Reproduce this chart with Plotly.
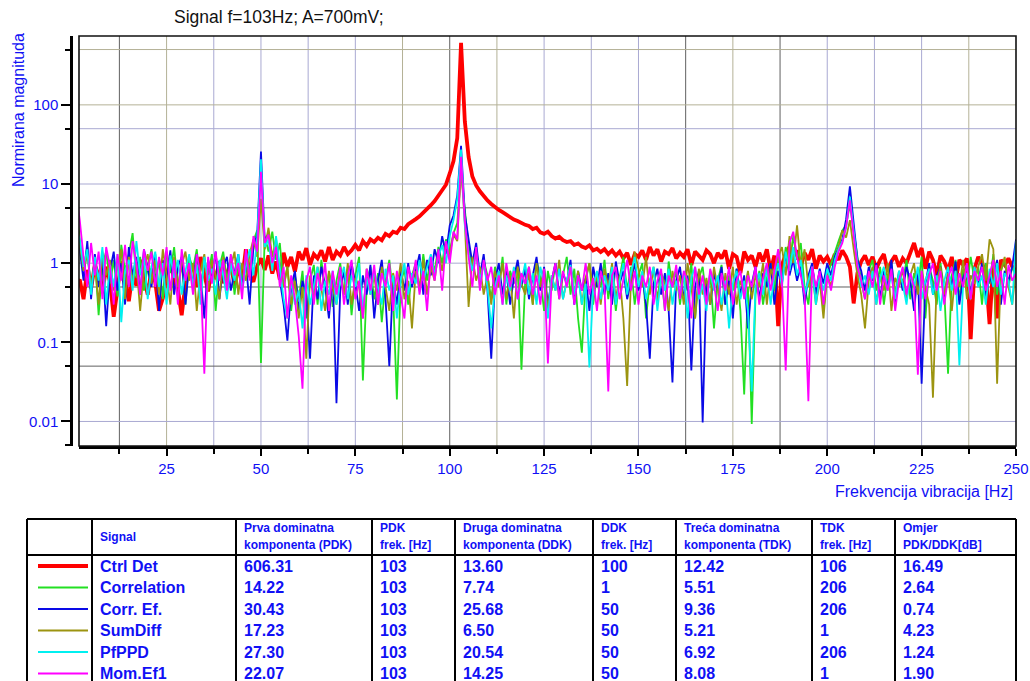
import plotly.graph_objects as go

# ── Spectrum data (1 Hz bins, 1..250 Hz) ────────────────────────────────────
freq_hz = list(range(1, 251))

ctrl_det = [
    0.55, 0.62, 0.35, 0.82, 0.48, 0.95, 0.70, 0.42, 0.90, 0.58,
    0.21, 0.45, 1.05, 0.62, 0.33, 0.74, 0.52, 1.10, 0.68, 0.40,
    0.85, 0.57, 0.25, 0.36, 0.70, 1.15, 0.60, 0.47, 0.22, 0.55,
    0.80, 0.95, 0.50, 1.20, 0.72, 0.44, 0.88, 0.63, 1.05, 0.56,
    0.75, 0.98, 0.52, 0.85, 0.62, 1.50, 0.70, 0.58, 0.92, 1.15,
    0.82, 1.25, 0.74, 1.05, 0.62, 1.35, 0.90, 1.20, 0.78, 1.40,
    1.10, 1.55, 0.95, 1.30, 1.15, 1.45, 1.05, 1.60, 1.10, 1.40,
    1.25, 1.60, 1.30, 1.45, 1.70, 1.45, 1.90, 1.65, 2.00, 1.85,
    2.10, 1.95, 2.35, 2.20, 2.50, 2.40, 2.80, 2.70, 3.10, 3.40,
    3.60, 3.90, 4.30, 4.80, 5.40, 6.10, 7.20, 8.40, 9.80, 13.60,
    19.5, 38.0, 606.31, 62.0, 22.0, 12.42, 9.60, 8.10, 7.00, 6.20,
    5.60, 5.10, 4.70, 4.40, 4.05, 3.80, 3.55, 3.40, 3.20, 3.05,
    2.95, 2.70, 2.80, 2.45, 2.35, 2.50, 2.20, 2.05, 2.15, 1.95,
    1.85, 1.90, 1.70, 1.78, 1.62, 1.55, 1.68, 1.45, 1.52, 1.38,
    1.50, 1.30, 1.45, 1.25, 1.40, 1.15, 1.35, 0.95, 1.30, 1.20,
    1.45, 1.10, 1.60, 1.25, 1.50, 1.05, 1.40, 1.30, 1.55, 1.15,
    1.35, 1.20, 1.50, 0.95, 1.40, 1.25, 1.10, 1.45, 1.30, 1.00,
    1.35, 1.15, 1.45, 0.85, 1.30, 1.20, 0.75, 1.40, 1.10, 1.25,
    0.90, 1.35, 1.05, 1.50, 0.80, 1.25, 0.16, 0.95, 1.30, 1.60,
    1.20, 1.45, 0.90, 1.35, 1.10, 1.50, 0.85, 1.25, 1.05, 1.20,
    0.95, 1.30, 1.10, 1.45, 1.20, 0.90, 0.31, 0.75, 1.05, 1.25,
    0.95, 1.20, 0.85, 1.10, 1.30, 0.80, 1.05, 1.25, 0.90, 1.15,
    1.00, 1.35, 1.80, 1.20, 1.55, 0.85, 1.40, 1.10, 0.70, 1.25,
    1.05, 0.80, 1.20, 0.60, 1.10, 0.95, 1.15, 0.11, 0.85, 1.20,
    1.00, 0.75, 0.17, 1.05, 0.20, 1.10, 0.95, 1.15, 0.90, 0.80,
]

correlation = [
    7.74, 1.9, 0.85, 1.6, 0.42, 1.2, 0.22, 0.95, 1.4, 0.55,
    1.1, 0.38, 1.7, 0.8, 1.3, 2.4, 0.65, 1.2, 0.45, 0.9,
    1.5, 0.6, 1.1, 0.35, 1.4, 0.75, 1.6, 0.5, 1.0, 0.3,
    1.2, 0.85, 1.5, 0.45, 1.1, 0.7, 1.3, 0.25, 0.9, 1.4,
    0.6, 1.2, 0.4, 1.0, 0.55, 1.3, 0.8, 1.9, 2.6, 0.055,
    2.2, 1.4, 2.5, 1.1, 1.8, 0.5, 0.9, 0.25, 0.7, 0.35,
    0.8, 0.2, 0.6, 0.95, 0.3, 1.1, 0.45, 0.75, 0.28, 0.6,
    1.0, 0.4, 0.85, 0.22, 0.7, 1.2, 0.033, 0.5, 0.9, 0.35,
    0.75, 0.18, 0.6, 1.1, 0.4, 0.019, 0.55, 0.85, 0.3, 0.7,
    1.0, 0.45, 1.3, 0.6, 1.2, 0.8, 1.6, 1.0, 2.0, 1.4,
    2.4, 3.2, 14.22, 5.0, 1.6, 0.9, 1.5, 0.5, 1.1, 0.7,
    0.35, 0.9, 0.5, 1.2, 0.3, 0.8, 0.55, 1.0, 0.045, 0.6,
    0.9, 0.3, 1.1, 0.65, 0.25, 0.8, 0.45, 1.0, 0.35, 0.7,
    1.2, 0.4, 0.85, 0.2, 0.074, 0.6, 1.0, 0.3, 0.75, 0.5,
    1.1, 0.35, 0.8, 0.25, 0.65, 1.2, 0.45, 0.9, 0.3, 0.7,
    1.0, 0.2, 0.6, 0.85, 0.35, 0.75, 0.25, 1.05, 0.5, 0.8,
    0.3, 0.7, 0.45, 1.0, 0.2, 0.65, 0.9, 0.35, 0.75, 0.15,
    0.6, 0.95, 0.3, 0.7, 0.45, 0.85, 0.25, 0.022, 0.5, 0.0093,
    0.4, 0.8, 0.3, 0.65, 1.0, 0.45, 1.2, 0.6, 1.6, 0.9,
    2.2, 1.1, 1.8, 0.5, 0.3, 0.9, 0.45, 0.8, 0.25, 0.7,
    1.0, 1.4, 1.9, 2.6, 3.0, 5.51, 2.4, 1.2, 0.6, 0.35,
    0.8, 1.1, 0.45, 0.9, 0.3, 0.7, 1.0, 0.4, 0.8, 0.55,
    1.1, 0.35, 0.75, 0.5, 1.2, 0.2, 0.9, 0.6, 0.3, 1.0,
    0.45, 0.04, 0.7, 1.1, 0.35, 0.85, 0.5, 1.2, 0.6, 0.9,
    0.3, 1.0, 0.55, 1.3, 0.4, 0.8, 1.1, 0.5, 0.9, 0.7,
]

corr_ef = [
    3.8, 1.5, 0.6, 1.9, 0.35, 1.3, 0.5, 1.1, 0.16, 0.8,
    1.4, 0.45, 1.0, 0.3, 1.6, 0.7, 1.2, 0.4, 1.5, 0.85,
    0.5, 1.3, 0.25, 1.1, 0.65, 1.45, 0.4, 0.9, 1.2, 0.3,
    1.0, 0.55, 1.3, 0.7, 0.2, 1.1, 0.6, 1.4, 0.35, 0.9,
    1.2, 0.45, 0.8, 1.3, 0.5, 1.0, 0.3, 1.6, 2.3, 25.68,
    1.9, 2.4, 0.9, 1.7, 0.6, 0.3, 0.105, 0.5, 0.8, 0.25,
    0.6, 0.4, 0.062, 0.7, 0.35, 0.9, 0.5, 0.2, 0.75, 0.017,
    0.45, 0.8, 0.3, 1.0, 0.55, 0.25, 0.7, 0.4, 0.95, 0.2,
    0.6, 1.1, 0.35, 0.05, 0.65, 0.3, 0.85, 0.45, 1.0, 0.5,
    0.8, 1.3, 0.4, 1.1, 0.7, 1.5, 1.0, 2.2, 1.3, 3.0,
    4.0, 7.2, 30.43, 4.2, 2.0, 1.0, 1.8, 0.7, 1.3, 0.45,
    0.062, 0.6, 1.0, 0.4, 0.8, 0.3, 0.65, 1.1, 0.5, 0.85,
    0.35, 0.7, 1.2, 0.45, 0.9, 0.3, 0.6, 1.0, 0.4, 0.75,
    0.55, 1.1, 0.3, 0.8, 0.45, 0.65, 0.25, 0.9, 0.5, 1.0,
    0.4, 0.75, 0.3, 1.05, 0.55, 0.8, 0.35, 0.6, 1.0, 0.45,
    0.7, 0.3, 0.062, 0.55, 0.85, 0.4, 0.75, 0.25, 0.031, 0.6,
    0.9, 0.35, 0.7, 0.044, 0.5, 0.8, 0.0097, 0.6, 0.3, 0.75,
    0.45, 0.9, 0.3, 0.6, 0.2, 0.85, 0.4, 0.7, 0.15, 0.55,
    0.9, 0.35, 0.75, 0.5, 1.0, 0.3, 0.8, 0.55, 1.3, 0.7,
    1.1, 0.6, 0.9, 0.3, 0.7, 1.0, 0.4, 0.85, 0.55, 1.0,
    0.7, 1.2, 1.6, 2.0, 3.6, 9.36, 3.0, 1.1, 0.8, 0.45,
    0.9, 0.6, 1.0, 0.35, 0.8, 0.5, 1.1, 0.3, 0.75, 0.45,
    0.9, 0.6, 0.25, 0.8, 0.030, 0.55, 1.0, 0.4, 0.7, 0.9,
    0.35, 0.8, 0.5, 1.05, 0.3, 0.65, 0.95, 0.4, 0.85, 0.55,
    1.0, 0.35, 0.7, 0.5, 1.1, 0.3, 0.8, 0.6, 0.9, 2.0,
]

sum_diff = [
    5.21, 1.7, 0.8, 1.3, 0.5, 1.0, 0.3, 1.4, 0.7, 1.1,
    0.45, 0.9, 1.5, 0.35, 1.2, 0.6, 1.0, 0.25, 0.85, 1.3,
    0.55, 1.1, 0.4, 1.5, 0.7, 0.3, 1.2, 0.5, 0.95, 1.4,
    0.6, 1.0, 0.25, 0.8, 1.3, 0.45, 1.1, 0.7, 0.35, 1.2,
    0.5, 0.9, 1.4, 0.4, 1.0, 0.6, 1.3, 2.0, 1.2, 6.50,
    1.5, 2.8, 1.2, 2.0, 0.8, 0.5, 0.9, 0.3, 0.6, 0.2,
    0.5, 0.062, 0.7, 0.35, 0.9, 0.45, 0.25, 0.8, 0.5, 0.3,
    0.75, 0.4, 1.0, 0.3, 0.65, 0.5, 0.2, 0.85, 0.4, 0.7,
    0.3, 0.9, 0.5, 0.25, 0.75, 0.45, 1.0, 0.35, 0.6, 0.15,
    0.8, 0.5, 1.1, 0.4, 0.9, 0.6, 1.4, 0.8, 1.8, 1.3,
    2.3, 1.9, 17.23, 3.2, 0.28, 1.2, 0.6, 0.9, 0.4, 0.7,
    0.3, 0.8, 0.5, 1.0, 0.35, 0.7, 0.2, 0.9, 0.55, 0.4,
    0.75, 0.3, 1.0, 0.5, 0.85, 0.25, 0.7, 0.45, 1.1, 0.35,
    0.6, 0.9, 0.4, 0.8, 0.3, 0.65, 1.0, 0.45, 0.7, 0.3,
    0.85, 0.5, 1.0, 0.35, 0.7, 0.2, 0.028, 0.6, 1.4, 0.8,
    0.5, 1.2, 0.4, 0.9, 0.3, 0.75, 0.55, 0.25, 0.8, 0.45,
    0.7, 0.3, 1.0, 0.5, 0.2, 0.85, 0.4, 0.65, 0.3, 0.9,
    0.5, 0.25, 0.75, 0.4, 0.9, 0.3, 0.6, 0.45, 0.8, 0.35,
    0.7, 0.5, 1.0, 0.3, 0.85, 0.6, 1.2, 1.6, 0.7, 2.2,
    1.0, 3.0, 0.9, 1.5, 0.5, 0.8, 0.3, 0.6, 0.2, 0.75,
    0.5, 1.0, 1.6, 2.6, 2.1, 3.5, 1.5, 0.7, 0.4, 0.15,
    0.6, 0.9, 0.3, 0.7, 0.45, 1.0, 0.25, 0.65, 0.5, 0.85,
    0.35, 0.7, 1.0, 0.4, 0.8, 0.5, 0.3, 0.020, 0.6, 0.9,
    0.4, 0.75, 0.25, 0.8, 0.5, 1.1, 0.35, 0.7, 0.55, 0.9,
    1.3, 0.6, 2.0, 1.5, 0.030, 0.8, 1.2, 0.5, 0.3, 0.85,
]

pfppd = [
    2.8, 2.0, 0.9, 1.5, 0.4, 1.2, 0.6, 1.6, 0.3, 0.95,
    0.5, 1.3, 0.18, 0.8, 1.1, 0.45, 1.9, 0.7, 1.2, 0.35,
    0.9, 1.4, 0.5, 1.0, 0.3, 1.25, 0.65, 1.1, 0.4, 0.8,
    1.3, 0.5, 0.95, 0.3, 1.2, 0.6, 0.85, 0.4, 1.1, 0.7,
    0.35, 1.0, 0.6, 1.3, 0.45, 0.9, 1.5, 0.7, 2.1, 20.54,
    1.6, 2.0, 0.8, 2.2, 0.9, 0.35, 0.2, 0.6, 0.3, 0.45,
    0.15, 0.7, 0.3, 0.55, 0.9, 0.25, 0.6, 0.4, 0.8, 0.3,
    0.6, 0.9, 0.35, 0.7, 0.5, 1.0, 0.25, 0.65, 0.4, 0.8,
    0.5, 0.3, 0.85, 0.45, 0.7, 0.2, 0.6, 1.0, 0.4, 0.75,
    0.55, 1.1, 0.6, 0.9, 1.3, 0.7, 1.2, 1.7, 1.0, 2.2,
    3.5, 6.5, 27.30, 3.0, 1.3, 0.8, 1.4, 0.6, 1.0, 0.5,
    0.15, 0.5, 0.8, 0.3, 0.7, 0.45, 0.9, 0.35, 0.6, 1.0,
    0.4, 0.75, 0.3, 0.9, 0.55, 0.2, 0.7, 0.45, 0.85, 0.35,
    0.6, 0.95, 0.4, 0.7, 0.3, 0.55, 0.048, 0.5, 0.8, 0.35,
    0.7, 0.45, 0.9, 0.3, 0.6, 1.0, 0.4, 0.75, 1.2, 0.5,
    0.8, 0.35, 0.6, 0.9, 0.25, 0.7, 0.45, 0.85, 0.3, 0.6,
    0.4, 0.75, 0.2, 0.65, 0.9, 0.35, 0.55, 0.25, 0.8, 0.45,
    0.7, 0.3, 0.6, 0.15, 0.55, 0.8, 0.35, 0.6, 0.25, 0.024,
    0.5, 0.75, 0.4, 0.9, 0.3, 0.7, 1.0, 0.5, 1.4, 0.8,
    1.6, 0.7, 1.1, 0.4, 0.6, 0.9, 0.3, 0.7, 0.45, 0.85,
    0.6, 1.1, 1.5, 1.9, 2.8, 6.92, 2.6, 1.0, 0.5, 0.7,
    0.4, 0.8, 0.3, 0.65, 0.9, 0.45, 0.7, 0.35, 0.8, 0.55,
    0.3, 0.75, 0.5, 0.9, 0.35, 0.6, 0.85, 0.4, 0.7, 0.25,
    0.6, 0.9, 0.45, 0.8, 0.051, 0.55, 0.75, 0.35, 0.9, 0.5,
    0.7, 0.3, 0.85, 0.5, 1.0, 0.4, 0.75, 0.6, 0.3, 1.9,
]

mom_ef1 = [
    8.08, 3.5, 1.2, 0.5, 1.8, 0.7, 1.4, 0.35, 1.6, 0.9,
    0.3, 1.3, 0.6, 1.7, 0.5, 1.9, 1.0, 0.4, 1.5, 0.8,
    1.4, 0.5, 1.2, 0.7, 1.6, 0.45, 1.1, 0.3, 1.5, 0.6,
    1.0, 0.4, 1.3, 0.7, 0.04, 1.2, 0.55, 1.4, 0.6, 1.1,
    0.45, 1.3, 0.7, 1.0, 0.35, 1.5, 0.6, 2.2, 1.4, 14.25,
    1.8, 2.3, 1.0, 1.6, 0.5, 0.9, 0.2, 0.7, 0.35, 0.12,
    0.026, 0.6, 0.9, 0.3, 0.75, 0.45, 1.0, 0.25, 0.8, 0.4,
    0.9, 0.3, 0.7, 1.1, 0.35, 0.6, 0.2, 0.85, 0.45, 0.95,
    0.3, 0.75, 0.5, 1.0, 0.25, 0.8, 0.4, 0.2, 0.9, 0.55,
    1.1, 0.4, 0.8, 0.25, 1.2, 0.6, 1.5, 0.45, 1.9, 1.0,
    2.5, 2.0, 22.07, 3.4, 1.2, 0.5, 1.6, 0.45, 1.1, 0.6,
    0.9, 0.4, 0.7, 0.3, 1.0, 0.5, 0.8, 0.35, 0.75, 0.55,
    0.9, 0.4, 0.7, 0.3, 0.85, 0.054, 0.6, 1.0, 0.35, 0.8,
    0.5, 0.9, 0.3, 0.7, 0.45, 1.0, 0.4, 0.65, 0.25, 0.8,
    0.5, 0.024, 0.7, 0.9, 0.35, 0.6, 1.1, 0.45, 0.8, 0.3,
    0.7, 0.5, 0.9, 0.3, 0.6, 0.85, 0.25, 0.7, 0.5, 0.95,
    0.35, 0.8, 0.6, 0.2, 0.9, 0.4, 0.7, 0.3, 0.85, 0.55,
    0.25, 0.75, 0.45, 0.9, 0.3, 0.6, 0.8, 0.35, 0.7, 0.5,
    0.9, 0.3, 0.65, 1.0, 0.45, 0.8, 1.5, 0.6, 0.044, 1.8,
    2.5, 1.2, 0.7, 0.4, 0.018, 0.9, 0.5, 0.8, 0.3, 0.7,
    0.45, 0.9, 1.4, 1.8, 2.9, 6.2, 2.2, 0.9, 0.6, 0.35,
    0.8, 0.5, 0.95, 0.3, 0.7, 0.45, 0.85, 0.25, 0.6, 0.9,
    0.4, 0.75, 0.5, 0.039, 0.8, 0.35, 0.7, 1.0, 0.45, 0.8,
    0.3, 0.65, 0.9, 0.4, 0.75, 0.5, 1.0, 0.35, 0.8, 0.6,
    0.9, 0.45, 0.7, 1.1, 0.5, 0.8, 0.3, 0.95, 0.6, 0.75,
]

# ── Table data ──────────────────────────────────────────────────────────────
signals = ["Ctrl Det", "Correlation", "Corr. Ef.", "SumDiff", "PfPPD", "Mom.Ef1"]
series = [ctrl_det, correlation, corr_ef, sum_diff, pfppd, mom_ef1]
colors = ["#FF0000", "#22E022", "#0A0AE6", "#9C9410", "#00F0F0", "#FF00FF"]
widths = [3.8, 1.8, 1.8, 1.8, 1.8, 1.8]

pdk = [606.31, 14.22, 30.43, 17.23, 27.30, 22.07]
pdk_freq = [103, 103, 103, 103, 103, 103]
ddk = [13.60, 7.74, 25.68, 6.50, 20.54, 14.25]
ddk_freq = [100, 1, 50, 50, 50, 50]
tdk = [12.42, 5.51, 9.36, 5.21, 6.92, 8.08]
tdk_freq = [106, 206, 206, 1, 206, 1]
ratio_db = [16.49, 2.64, 0.74, 4.23, 1.24, 1.90]

header_line1 = ["", "Signal", "Prva dominatna", "PDK", "Druga dominatna",
                "DDK", "Treća dominatna", "TDK", "Omjer"]
header_line2 = ["", "", "komponenta (PDK)", "frek. [Hz]", "komponenta (DDK)",
                "frek. [Hz]", "komponenta (TDK)", "frek. [Hz]", "PDK/DDK[dB]"]

x_ticks = [25, 50, 75, 100, 125, 150, 175, 200, 225, 250]
y_ticks = [0.01, 0.1, 1, 10, 100]
y_ticktext = ["0.01", "0.1", "1", "10", "100"]
y_minor = [0.005, 0.05, 0.5, 5, 50, 500]

# grid lines (values) and their colours, as in the original instrument plot
OLIVE, LAV, DARK = "#B4B196", "#A9A9D2", "#606060"
v_grid = [12.5 * k for k in range(1, 20)]
v_grid_col = [DARK, OLIVE, LAV, LAV, LAV, LAV, OLIVE, DARK, OLIVE, LAV,
              LAV, LAV, DARK, OLIVE, DARK, LAV, LAV, LAV, OLIVE]
h_grid = [500, 100, 50, 10, 5, 1, 0.5, 0.1, 0.05, 0.01]
h_grid_col = [OLIVE, OLIVE, LAV, LAV, DARK, LAV, DARK, OLIVE, DARK, LAV]

# ── Geometry ────────────────────────────────────────────────────────────────
W, H = 1030, 681
ML, MR, MT, MB = 71, 14, 36, 235
PW, PH = W - ML - MR, H - MT - MB
PLOT_LEFT = 79
BLUE = "#1010F5"
FONT = "Arial, 'Liberation Sans', sans-serif"


def px(xp):
    return (xp - ML) / PW


def py(yp):
    return (H - MB - yp) / PH


fig = go.Figure()

for name, vals, col, w in zip(signals, series, colors, widths):
    fig.add_trace(go.Scatter(
        x=freq_hz, y=vals, mode="lines", name=name,
        line=dict(color=col, width=w), showlegend=False,
    ))

shapes = []
for f, c in zip(v_grid, v_grid_col):
    shapes.append(dict(type="line", xref="x", yref="paper", x0=f, x1=f, y0=0, y1=1,
                       line=dict(color=c, width=1), layer="below"))
for v, c in zip(h_grid, h_grid_col):
    shapes.append(dict(type="line", xref="paper", yref="y", x0=px(PLOT_LEFT), x1=1,
                       y0=v, y1=v, line=dict(color=c, width=1), layer="below"))
# plot frame
shapes.append(dict(type="rect", xref="paper", yref="paper", x0=px(PLOT_LEFT), x1=1,
                   y0=0, y1=1, line=dict(color="#111111", width=1.6)))

# ── Table drawn with shapes / annotations ───────────────────────────────────
col_edges = [27, 92, 236, 372, 455, 593, 676, 812, 895, 1016]
tbl_top, tbl_head, tbl_bottom = 519, 555, 700
row_y0, row_h = 566, 21.5

for xe in col_edges:
    shapes.append(dict(type="line", xref="paper", yref="paper", x0=px(xe), x1=px(xe),
                       y0=py(tbl_top), y1=py(tbl_bottom), line=dict(color="#000", width=2)))
for ye in (tbl_top, tbl_head):
    shapes.append(dict(type="line", xref="paper", yref="paper", x0=px(col_edges[0]),
                       x1=px(col_edges[-1]), y0=py(ye), y1=py(ye),
                       line=dict(color="#000", width=2)))

annotations = []
for i, (l1, l2) in enumerate(zip(header_line1, header_line2)):
    xl = px(col_edges[i] + 6)
    if l1 and not l2:
        annotations.append(dict(x=xl, y=py(537), text=f"<b>{l1}</b>"))
    elif l1:
        annotations.append(dict(x=xl, y=py(528), text=f"<b>{l1}</b>"))
        annotations.append(dict(x=xl, y=py(545), text=f"<b>{l2}</b>"))
for a in annotations:
    a.update(xref="paper", yref="paper", xanchor="left", yanchor="middle",
             showarrow=False, font=dict(family=FONT, size=12, color=BLUE))

for r, name in enumerate(signals):
    yc = row_y0 + r * row_h
    shapes.append(dict(type="line", xref="paper", yref="paper", x0=px(38), x1=px(88),
                       y0=py(yc), y1=py(yc),
                       line=dict(color=colors[r], width=4 if r == 0 else 2)))
    cells = [name, f"{pdk[r]:.2f}", str(pdk_freq[r]), f"{ddk[r]:.2f}", str(ddk_freq[r]),
             f"{tdk[r]:.2f}", str(tdk_freq[r]), f"{ratio_db[r]:.2f}"]
    for c, txt in enumerate(cells):
        annotations.append(dict(
            xref="paper", yref="paper", x=px(col_edges[c + 1] + 6), y=py(yc),
            xanchor="left", yanchor="middle", showarrow=False, text=f"<b>{txt}</b>",
            font=dict(family=FONT, size=16, color=BLUE)))

# titles
annotations.append(dict(xref="paper", yref="paper", x=px(172), y=py(17), xanchor="left",
                        yanchor="middle", showarrow=False, text="Signal f=103Hz; A=700mV;",
                        font=dict(family=FONT, size=17.5, color="#111111")))
annotations.append(dict(xref="paper", yref="paper", x=px(18), y=py(110), xanchor="center",
                        yanchor="middle", showarrow=False, text="Normirana magnituda",
                        textangle=-90, font=dict(family=FONT, size=16, color=BLUE)))
annotations.append(dict(xref="paper", yref="paper", x=px(1015), y=py(491), xanchor="right",
                        yanchor="middle", showarrow=False, text="Frekvencija vibracija [Hz]",
                        font=dict(family=FONT, size=16, color=BLUE)))

x_common = dict(range=[1.8, 250], tickvals=x_ticks, showgrid=False, zeroline=False,
                tickcolor="#000", tickwidth=2,
                minor=dict(tick0=0, dtick=12.5, tickcolor="#000", tickwidth=2, showgrid=False))
y_common = dict(type="log", range=[-2.31, 2.87], tickvals=y_ticks, showgrid=False,
                zeroline=False, tickcolor="#000", tickwidth=2, anchor="free", position=0,
                minor=dict(tickmode="array", tickvals=y_minor, tickcolor="#000",
                           tickwidth=2, showgrid=False))

fig.update_layout(
    width=W, height=H, autosize=False,
    margin=dict(l=ML, r=MR, t=MT, b=MB, autoexpand=False),
    paper_bgcolor="white", plot_bgcolor="white",
    font=dict(family=FONT, color=BLUE),
    xaxis=dict(**x_common, domain=[px(PLOT_LEFT), 1], showline=True, linecolor="#000",
               linewidth=3, ticks="outside", ticklen=7,
               tickfont=dict(family=FONT, size=15, color=BLUE)),
    xaxis2=dict(**x_common, domain=[px(PLOT_LEFT), 1], overlaying="x", anchor="y",
                side="bottom", showline=False, ticks="inside", ticklen=9,
                showticklabels=False),
    yaxis=dict(**y_common, showline=True, linecolor="#000", linewidth=2.5,
               ticks="outside", ticklen=9,
               ticktext=y_ticktext, tickmode="array",
               tickfont=dict(family=FONT, size=15, color=BLUE)),
    yaxis2=dict(**y_common, overlaying="y", showline=False, ticks="inside", ticklen=9,
                tickmode="array", showticklabels=False),
    shapes=shapes,
    annotations=annotations,
)
fig.layout.xaxis.minor.ticks = "outside"
fig.layout.xaxis.minor.ticklen = 5
fig.layout.yaxis.minor.ticks = "outside"
fig.layout.yaxis.minor.ticklen = 5
fig.layout.xaxis2.minor.ticks = "inside"
fig.layout.xaxis2.minor.ticklen = 5
fig.layout.yaxis2.minor.ticks = "inside"
fig.layout.yaxis2.minor.ticklen = 5

# remove the page's default body margin and scrollbars so the figure sits at (0, 0)
page_fix = ("document.documentElement.style.overflow='hidden';"
            "document.body.style.margin='0px';document.body.style.overflow='hidden';")
fig.write_html("out.html", post_script=page_fix,
               config={"displayModeBar": False, "responsive": False})
